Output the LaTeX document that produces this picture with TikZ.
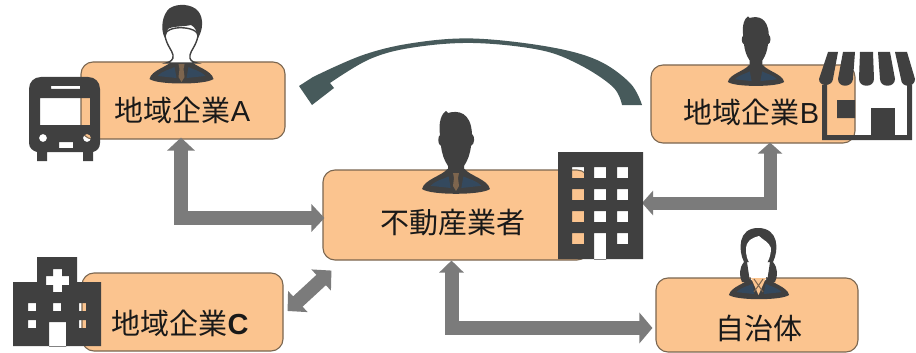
\documentclass[tikz,border=0pt]{standalone}
\usepackage{fontspec}
\setmainfont{Noto Sans CJK JP}
\newfontfamily\latinfont{Liberation Sans}
\usetikzlibrary{arrows.meta}
\definecolor{peach}{HTML}{FBC48F}
\definecolor{edgebrown}{HTML}{7A6650}
\definecolor{icondark}{HTML}{404040}
\definecolor{navy}{HTML}{34495E}
\definecolor{arrowgray}{HTML}{7B7B7B}
\definecolor{curvegreen}{HTML}{475A5B}
\definecolor{tiebrown}{HTML}{7D654E}
\tikzset{
  infobox/.style={draw=edgebrown,fill=peach,line width=1.1pt,rounded corners=12pt,inner sep=0pt},
  boxlabel/.style={inner sep=0pt,text=black!90,font=\fontsize{29}{29}\selectfont},
  twoway/.style={draw=arrowgray,line width=14pt,{Triangle[width=27pt,length=13pt]}-{Triangle[width=27pt,length=13pt]}},
  dark/.style={fill=icondark,even odd rule},
}
% body with tie: origin = centre of the top of the shoulders
\newcommand{\shoulders}[2]{%
  \begin{scope}[shift={(#1)},x=#2pt,y=-#2pt]
    \fill[icondark] (-32,17) .. controls (-30,8) and (-14,5) .. (-8,-2) -- (8,-2) .. controls (14,5) and (30,8) .. (32,17) .. controls (24,23) and (-24,23) .. (-32,17) -- cycle;
    \fill[navy] (-24,14) .. controls (-18,8) and (-12,8) .. (-7,5) -- (-5,16) -- cycle;
    \fill[navy] (24,14) .. controls (18,8) and (12,8) .. (7,5) -- (5,16) -- cycle;
  \end{scope}}
\newcommand{\necktie}[1]{%
  \begin{scope}[shift={(#1)}]
    \fill[tiebrown] (-3,1) -- (3,1) -- (2,6) -- (3,14) -- (0,19) -- (-3,14) -- (-2,6) -- cycle;
  \end{scope}}
% solid head: origin = chin
\newcommand{\solidhead}[2]{%
  \begin{scope}[shift={(#1)},x=#2pt,y=-#2pt]
    \fill[icondark] (-8,8) -- (-8,-2) .. controls (-12,-8) and (-14,-14) .. (-15,-22) .. controls (-19,-24) and (-18,-32) .. (-16,-33)
      .. controls (-18,-46) and (-14,-55) .. (-10,-57) -- (-8,-55) .. controls (2,-58) and (15,-56) .. (16,-34)
      .. controls (19,-32) and (19,-24) .. (15,-22) .. controls (14,-14) and (12,-8) .. (8,-2) -- (8,8) -- cycle;
  \end{scope}}
\begin{document}
\begin{tikzpicture}[x=1pt,y=-1pt]
\useasboundingbox (0,0) rectangle (916,353);
% boxes
\node[infobox,minimum width=204pt,minimum height=77pt] (a) at (183,100.5) {};
\node[infobox,minimum width=204pt,minimum height=78pt] (b) at (753,104) {};
\node[infobox,minimum width=266pt,minimum height=90pt] (m) at (456,215) {};
\node[infobox,minimum width=201pt,minimum height=78pt] (c) at (182.5,312) {};
\node[infobox,minimum width=202pt,minimum height=74pt] (g) at (757,315) {};
% connectors
\coordinate (bldgE) at (642,203);
\draw[twoway] ([xshift=-2pt,yshift=2pt]a.south) |- ([xshift=2pt,yshift=-3pt]m.west);
\draw[twoway,line width=13pt,{Triangle[width=24pt,length=11pt]}-{Triangle[width=24pt,length=11pt]}] ([xshift=17pt,yshift=1pt]b.south) |- (bldgE);
\draw[twoway,{Triangle[width=24pt,length=12pt]}-{Triangle[width=30pt,length=13pt]}] ([xshift=-4.5pt]m.south) |- ([xshift=-3pt,yshift=-13pt]g.west);
\draw[twoway,line width=14pt,{Triangle[width=28pt,length=14pt]}-{Triangle[width=28pt,length=14pt]}] ([shift={(4pt,1pt)}]c.east) -- ([shift={(9pt,-10pt)}]m.south west);
% curved arrow
\fill[curvegreen] plot[smooth,tension=0.6] coordinates {(642,105) (630,83) (597,60) (547,46.5) (473,38.5) (413,43) (363,55) (313,77)}
  -- (299,86) -- (312,105) -- (334,88) -- (330,83)
  -- plot[smooth,tension=0.6] coordinates {(330,83) (370,59) (413,47.5) (473,43) (540,50) (580,65) (613,87) (622,105)} -- cycle;
% bus
\path[dark] (41,77) -- (88,77) .. controls (95,77) and (100,82) .. (100,89) -- (100,143) .. controls (100,148) and (97,151) .. (93,152)
  -- (93,161) -- (83,161) -- (83,152) -- (47,152) -- (47,161) -- (37,161) -- (37,152)
  .. controls (33,151) and (29,148) .. (29,143) -- (29,89) .. controls (29,82) and (34,77) .. (41,77) -- cycle
  (51,86) rectangle (80,89)
  (40,98) rectangle (90,125)
  (43,138) circle (4pt)
  (87,138) circle (4pt)
  (59,142) rectangle (73,148);
% shop
\path[dark] (822,85) rectangle (827,135) (907,85) rectangle (912,135) (822,135) rectangle (912,140)
  (837,100) rectangle (855,118);
\path[fill=icondark] (871,108) rectangle (895,135);
\fill[icondark]
  (828,52) -- (838,52) -- (833,79) .. controls (832,87) and (819,87) .. (819,79) -- cycle
  (843,52) -- (855,52) -- (853,79) .. controls (852,88) and (838,88) .. (838,79) -- cycle
  (860,52) -- (873,52) -- (874,79) .. controls (874,88) and (859,88) .. (859,79) -- cycle
  (878,52) -- (890,52) -- (895,79) .. controls (895,88) and (880,88) .. (880,79) -- cycle
  (895,52) -- (907,52) -- (915,79) .. controls (915,88) and (901,88) .. (901,79) -- cycle;
% office building
\path[dark] (558,152) rectangle (643,259)
  (572,167) rectangle (584,178) (594,167) rectangle (606,178) (617,167) rectangle (628,178)
  (572,189) rectangle (584,200) (594,189) rectangle (606,200) (617,189) rectangle (628,200)
  (572,211) rectangle (584,222) (594,211) rectangle (606,222) (617,211) rectangle (628,222)
  (572,233) rectangle (584,244) (594,233) rectangle (606,259.5) (617,233) rectangle (628,244);
% hospital
\path[dark] (37,257) -- (77,257) -- (77,282) -- (101,282) -- (101,346) -- (13,346) -- (13,282) -- (37,282) -- cycle
  (53,269) -- (62,269) -- (62,276) -- (69,276) -- (69,285) -- (62,285) -- (62,292) -- (53,292) -- (53,285) -- (46,285) -- (46,276) -- (53,276) -- cycle
  (28,303) rectangle (36,311) (53,303) rectangle (61,311) (79,303) rectangle (86,311)
  (28,320) rectangle (36,328) (79,320) rectangle (86,328)
  (49,322) rectangle (66,346.5);
% person A (outlined face)
\shoulders{181.5,62}{1}
\path[fill=white,draw=icondark,line width=1.4pt] (165,36) .. controls (167,46) and (172,50) .. (173,55) .. controls (174,60) and (170,62) .. (166,63)
  -- (197,63) .. controls (192,62) and (189,60) .. (190,55) .. controls (191,50) and (196,46) .. (198,36) .. controls (199,26) and (165,24) .. (165,36) -- cycle;
\fill[icondark] (165,38) .. controls (160,30) and (162,14) .. (170,8) .. controls (178,3) and (192,4) .. (198,11) .. controls (204,18) and (203,30) .. (198,38)
  .. controls (197,31) and (195,27) .. (191,25) .. controls (182,27) and (172,26) .. (168,29) .. controls (166,31) and (166,34) .. (165,38) -- cycle;
\necktie{181.5,63}
% person B
\shoulders{756,67}{0.88}
\solidhead{756,62}{0.8}
% person centre
\shoulders{456,171}{1.06}
\solidhead{456,168}{1}
\necktie{456,172}
% person government
\shoulders{759,279}{0.94}
\fill[icondark] (744,262) .. controls (738,250) and (738,228) .. (758,228) .. controls (779,228) and (779,250) .. (773,262)
  .. controls (778,268) and (778,276) .. (775,282) -- (767,282) -- (770,262) -- (747,262) -- (750,282) -- (742,282) .. controls (739,276) and (739,268) .. (744,262) -- cycle;
\fill[white] (746,250) .. controls (746,240) and (752,238) .. (759,236) .. controls (763,240) and (769,242) .. (771,248) .. controls (771,258) and (766,268) .. (758.5,270) .. controls (751,268) and (746,260) .. (746,250) -- cycle;
\fill[white] (750,262) -- (767,262) -- (766,280) -- (751,280) -- cycle;
\fill[peach] (751,278) -- (766,278) -- (758.5,295) -- cycle;
\draw[tiebrown,line width=1pt] (754,279) -- (763,292) (763,279) -- (754,292);
% labels
\node[boxlabel] (la) at (182.5,110) {地域企業{\latinfont A}};
\node[boxlabel] (lb) at (751.5,112) {地域企業{\latinfont B}};
\node[boxlabel] (lm) at (452.5,223) {不動産業者};
\node[boxlabel] (lc) at (180,323) {地域企業{\latinfont\bfseries C}};
\node[boxlabel] (lg) at (758.5,328) {自治体};
\end{tikzpicture}
\end{document}
